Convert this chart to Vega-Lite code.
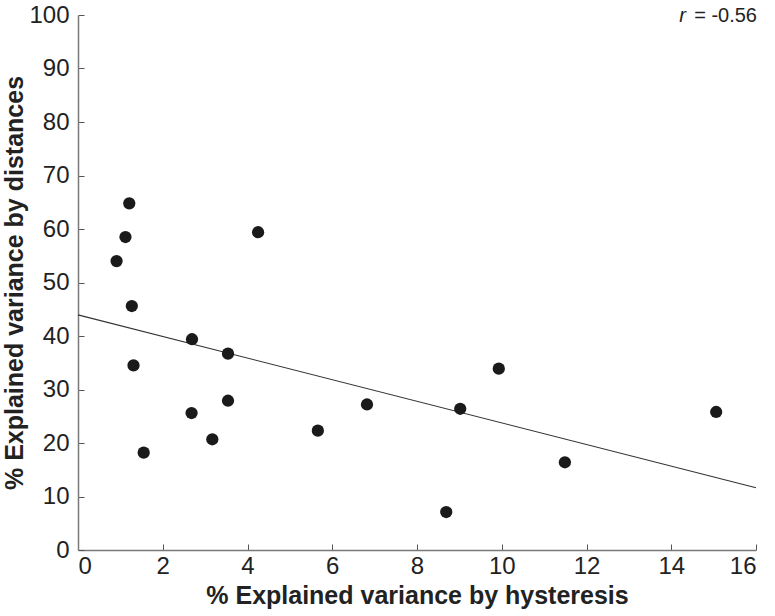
{
  "$schema": "https://vega.github.io/schema/vega-lite/v6.json",
  "width": 678,
  "height": 535,
  "autosize": {"type": "none"},
  "padding": {"left": 78, "top": 15, "right": 19, "bottom": 66},
  "background": "white",
  "config": {
    "view": {"stroke": null},
    "font": "Liberation Sans",
    "axis": {
      "grid": false,
      "domainColor": "#7a7a7a",
      "domainWidth": 1.5,
      "tickColor": "#555555",
      "tickWidth": 1,
      "tickSize": -6,
      "labelFont": "Liberation Sans",
      "labelFontSize": 24,
      "labelColor": "#222222",
      "titleFont": "Liberation Sans",
      "titleFontSize": 25,
      "titleFontWeight": "bold",
      "titleColor": "#222222"
    }
  },
  "datasets": {
    "points": [
      {"hysteresis": 0.91, "distances": 54.0},
      {"hysteresis": 1.12, "distances": 58.5},
      {"hysteresis": 1.21, "distances": 64.8},
      {"hysteresis": 1.27, "distances": 45.6},
      {"hysteresis": 1.31, "distances": 34.5},
      {"hysteresis": 1.55, "distances": 18.2},
      {"hysteresis": 2.69, "distances": 39.4},
      {"hysteresis": 2.68, "distances": 25.6},
      {"hysteresis": 3.17, "distances": 20.7},
      {"hysteresis": 3.54, "distances": 36.7},
      {"hysteresis": 3.54, "distances": 27.9},
      {"hysteresis": 4.25, "distances": 59.4},
      {"hysteresis": 5.66, "distances": 22.3},
      {"hysteresis": 6.82, "distances": 27.2},
      {"hysteresis": 8.69, "distances": 7.1},
      {"hysteresis": 9.02, "distances": 26.4},
      {"hysteresis": 9.93, "distances": 33.9},
      {"hysteresis": 11.49, "distances": 16.4},
      {"hysteresis": 15.06, "distances": 25.8}
    ],
    "fit": [
      {"hysteresis": 0, "distances": 43.95},
      {"hysteresis": 16, "distances": 11.65}
    ],
    "label": [
      {"hysteresis": 16, "distances": 100, "italic": "r", "rest": "= -0.56"}
    ]
  },
  "layer": [
    {
      "data": {"name": "fit"},
      "mark": {"type": "line", "color": "#333333", "strokeWidth": 1.1},
      "encoding": {
        "x": {"field": "hysteresis", "type": "quantitative", "scale": {"domain": [0, 16], "nice": false},
              "axis": {"title": "% Explained variance by hysteresis", "values": [0, 2, 4, 6, 8, 10, 12, 14, 16], "labelPadding": 10, "titlePadding": 5}},
        "y": {"field": "distances", "type": "quantitative", "scale": {"domain": [0, 100], "nice": false},
              "axis": {"title": "% Explained variance by distances", "values": [0, 10, 20, 30, 40, 50, 60, 70, 80, 90, 100], "labelPadding": 15, "titlePadding": 1}}
      }
    },
    {
      "data": {"name": "points"},
      "mark": {"type": "circle", "size": 150, "color": "#1a1a1a", "opacity": 1},
      "encoding": {
        "x": {"field": "hysteresis", "type": "quantitative"},
        "y": {"field": "distances", "type": "quantitative"}
      }
    },
    {
      "data": {"name": "label"},
      "mark": {"type": "text", "align": "right", "baseline": "alphabetic", "fontSize": 20, "color": "#222222", "dy": 7, "dx": 1},
      "encoding": {
        "x": {"field": "hysteresis", "type": "quantitative"},
        "y": {"field": "distances", "type": "quantitative"},
        "text": {"field": "rest"}
      }
    },
    {
      "data": {"name": "label"},
      "mark": {"type": "text", "align": "right", "baseline": "alphabetic", "fontSize": 20, "fontStyle": "italic", "color": "#222222", "dy": 7, "dx": -70},
      "encoding": {
        "x": {"field": "hysteresis", "type": "quantitative"},
        "y": {"field": "distances", "type": "quantitative"},
        "text": {"field": "italic"}
      }
    }
  ]
}
